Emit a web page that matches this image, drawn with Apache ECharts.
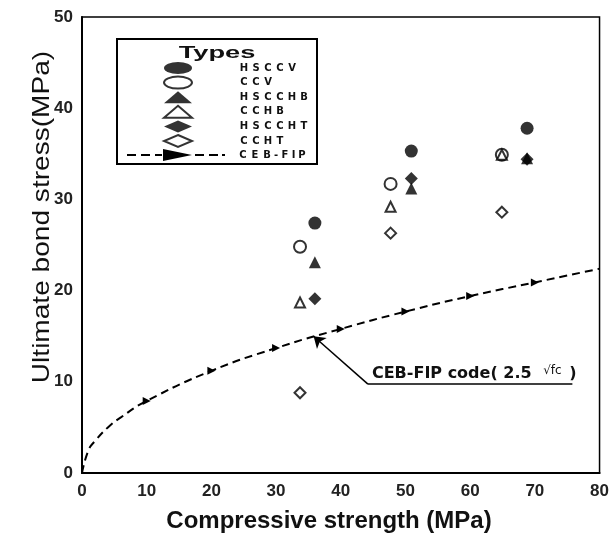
<!DOCTYPE html>
<html>
<head>
<meta charset="utf-8">
<script src="https://cdn.jsdelivr.net/npm/echarts@6/dist/echarts.min.js"></script>
<style>
html, body { margin: 0; padding: 0; background: #fff; }
#draw { width: 612px; height: 538px; }
</style>
</head>
<body>
<div id="draw"></div>
<script>
// values
var types = ['HSCCV', 'CCV', 'HSCCHB', 'CCHB', 'HSCCHT', 'CCHT'];
var hsccv  = [[36.0, 27.4], [50.9, 35.3], [68.8, 37.8]];
var ccv    = [[33.7, 24.8], [47.7, 31.7], [64.9, 34.9]];
var hscchb = [[36.0, 23.1], [50.9, 31.2], [68.8, 34.5]];
var cchb   = [[33.7, 18.7], [47.7, 29.2], [64.9, 34.9]];
var hsccht = [[36.0, 19.1], [50.9, 32.3], [68.8, 34.4]];
var ccht   = [[33.7, 8.8], [47.7, 26.3], [64.9, 28.6]];
// CEB-FIP code curve (2.5 sqrt(fc))
var cebX = [0, 1, 2, 4, 6, 10, 20, 30, 40, 50, 60, 70, 80];
var cebY = [0, 2.5, 3.5, 5.0, 6.1, 7.9, 11.2, 13.7, 15.8, 17.7, 19.4, 20.9, 22.4];
var cebMarks = [10, 20, 30, 40, 50, 60, 70];

var myChart = echarts.init(document.getElementById('draw'));

var filled = { color: '#000' };
var hollow = { color: '#fff', borderColor: '#000', borderWidth: 2 };

// stretched legend icons, as in the picture
var ellipseIcon = 'path://M0,6A14,6 0 1,0 28,6A14,6 0 1,0 0,6Z';
var cebIcon = 'path://M0,5h9v2h-9z M14,5h9v2h-9z M28,5h7v2h-7z M36,0L65,6L36,12z M68,5h9v2h-9z M82,5h9v2h-9z M95,5h3v2h-3z';

var scatter = function(name, data, symbol, size, style) {
	return {
		name: name,
		type: 'scatter',
		data: data,
		symbol: symbol,
		symbolSize: size,
		itemStyle: style,
		z: 3
	};
};

var cebData = cebX.map(function(x, i) {
	var item = { value: [x, cebY[i]] };
	if (cebMarks.indexOf(x) < 0) {
		item.symbol = 'none';
	}
	return item;
});

// the legend lettering is very wide in the picture: one fixed cell per letter
var wide = function(name) {
	return name.split('').map(function(ch) {
		var key = ch == '-' ? 'd' : (ch == 'I' ? 'i' : 'c');
		return '{' + key + '|' + ch + '}';
	}).join('');
};
var legendText = {
	padding: [0, 0, 0, 41],
	rich: {
		c: { width: 12, align: 'center', fontSize: 10, fontWeight: 'bold', fontFamily: 'DejaVu Sans', color: '#111' },
		d: { width: 6, align: 'center', fontSize: 10, fontWeight: 'bold', fontFamily: 'DejaVu Sans', color: '#111' },
		i: { width: 5, align: 'center', fontSize: 10, fontWeight: 'bold', fontFamily: 'DejaVu Sans', color: '#111' }
	}
};

var labelFont = '"Liberation Sans", Arial, sans-serif';

var option = {
	animation: false,
	grid: {
		left: 82, right: 10, top: 17, bottom: 65,
		show: true, borderColor: '#000', borderWidth: 1.5
	},
	xAxis: {
		type: 'value', min: 0, max: 80, interval: 10,
		axisLine: { lineStyle: { color: '#000', width: 2 } },
		axisTick: { show: false },
		splitLine: { show: false },
		axisLabel: { color: '#222', fontSize: 17, fontWeight: 'bold', fontFamily: labelFont, margin: 10 }
	},
	yAxis: {
		type: 'value', min: 0, max: 50, interval: 10,
		axisLine: { lineStyle: { color: '#000', width: 2 } },
		axisTick: { show: false },
		splitLine: { show: false },
		axisLabel: { color: '#222', fontSize: 17, fontWeight: 'bold', fontFamily: labelFont, margin: 9 }
	},
	legend: [{
		data: types.map(function(t, i) {
			return i < 2 ? { name: t, icon: ellipseIcon } : { name: t };
		}),
		formatter: wide,
		orient: 'vertical',
		left: 163, top: 62, padding: 0,
		itemWidth: 28, itemHeight: 12, itemGap: 1.6,
		symbolKeepAspect: false,
		selectedMode: false,
		textStyle: legendText
	}, {
		data: [{ name: 'CEB-FIP', icon: cebIcon }],
		formatter: wide,
		orient: 'vertical',
		left: 127, top: 149, padding: 0,
		itemWidth: 98, itemHeight: 12,
		symbolKeepAspect: false,
		selectedMode: false,
		itemStyle: { borderWidth: 0 },
		textStyle: echarts.util.extend(echarts.util.clone(legendText), { padding: [0, 0, 0, 7] })
	}],
	graphic: [{
		type: 'rect',
		shape: { x: 117, y: 39, width: 200, height: 125 },
		style: { fill: 'none', stroke: '#000', lineWidth: 2 }
	}, {
		type: 'text',
		x: 217, y: 54, scaleX: 1.7,
		style: { text: 'Types', font: 'bold 16px ' + labelFont, fill: '#111', align: 'center', verticalAlign: 'middle' }
	}, {
		type: 'text',
		x: 42, y: 217, rotation: Math.PI / 2, scaleX: 1.17,
		style: { text: 'Ultimate bond stress(MPa)', font: '24px ' + labelFont, fill: '#111', align: 'center', verticalAlign: 'middle' }
	}, {
		type: 'text',
		x: 329, y: 521,
		style: { text: 'Compressive strength (MPa)', font: 'bold 24px ' + labelFont, fill: '#111', align: 'center', verticalAlign: 'middle' }
	}],
	series: [
		scatter('HSCCV', hsccv, 'circle', 13, filled),
		scatter('CCV', ccv, 'circle', 12, hollow),
		scatter('HSCCHB', hscchb, 'triangle', 12, filled),
		scatter('CCHB', cchb, 'triangle', 10, hollow),
		scatter('HSCCHT', hsccht, 'diamond', 13, filled),
		scatter('CCHT', ccht, 'diamond', 11, hollow),
		{
			name: 'CEB-FIP',
			type: 'line',
			smooth: true,
			data: cebData,
			symbol: 'triangle',
			symbolRotate: -90,
			symbolSize: 8,
			itemStyle: { color: '#000' },
			lineStyle: { color: '#000', width: 2, type: [8, 5] },
			z: 2,
			markLine: {
				silent: true,
				symbol: ['none', 'none'],
				lineStyle: { color: '#000', width: 1.5, type: 'solid' },
				label: { show: false },
				data: [
					[{ coord: [44.2, 9.75] }, { coord: [35.8, 15.0], symbol: 'arrow', symbolSize: 11 }],
					[{ coord: [44.2, 9.75], label: {
						show: true,
						position: 'insideStartTop',
						distance: [4, 2],
						formatter: '{a|CEB-FIP code( 2.5 }{b|√fc}{a| )}',
						rich: {
							a: { fontSize: 16, fontWeight: 'bold', fontFamily: 'DejaVu Sans', color: '#111' },
							b: { fontSize: 12, fontFamily: 'DejaVu Sans', color: '#111', padding: [0, 2, 5, 6] }
						}
					} }, { coord: [75.8, 9.75] }]
				]
			}
		}
	]
};
myChart.setOption(option);
</script>
</body>
</html>
